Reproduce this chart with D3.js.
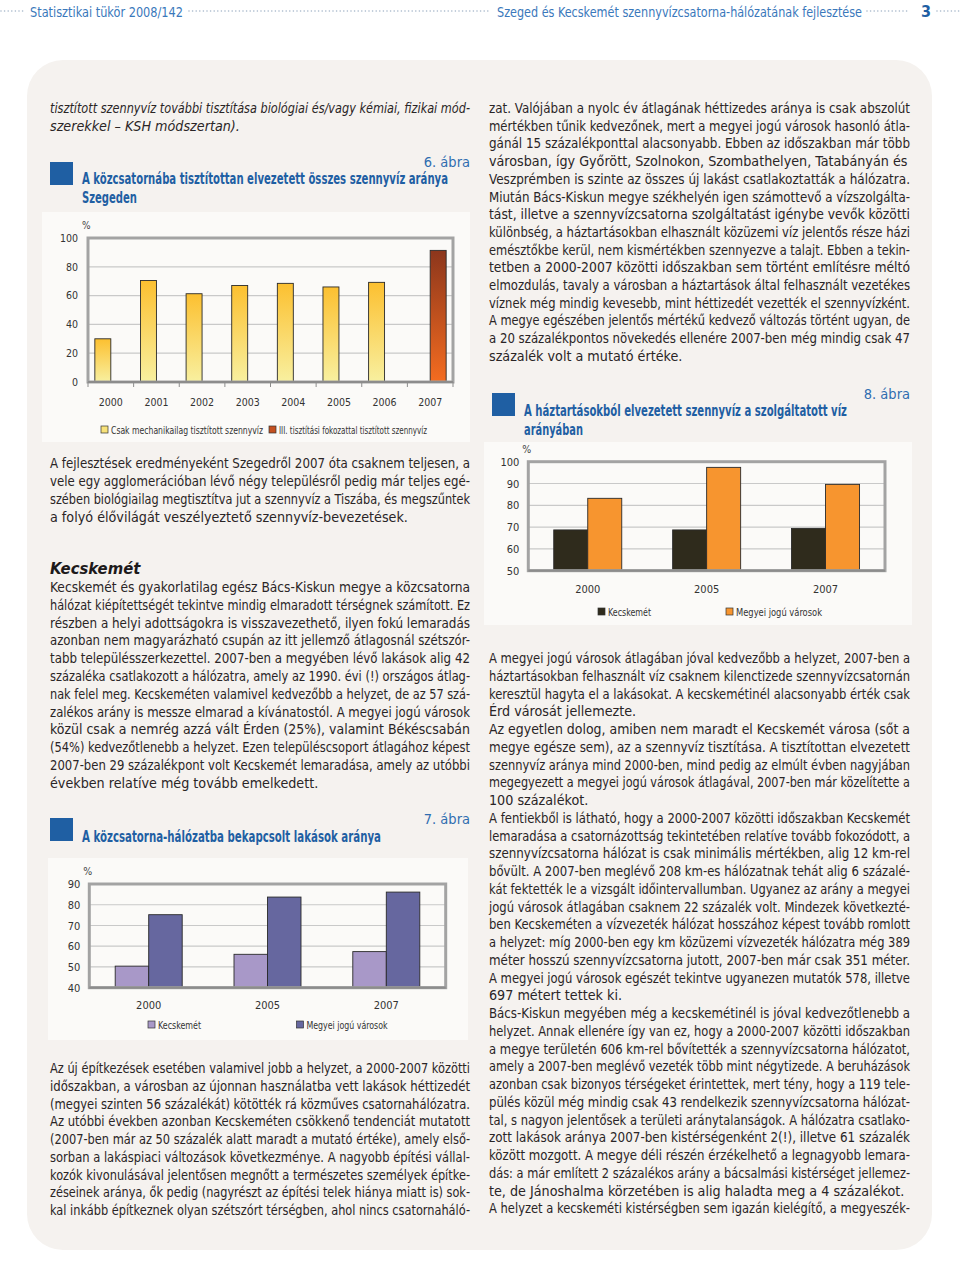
<!DOCTYPE html>
<html><head><meta charset="utf-8">
<script src="https://cdn.jsdelivr.net/npm/d3@7"></script>
<style>
html,body{margin:0;padding:0;background:#fff;}
svg{display:block;}
</style></head><body>
<svg id="page" width="960" height="1286"></svg>
<script>
// ---------------- DATA ----------------
const headerLeft = "Statisztikai tükör 2008/142";
const headerRight = "Szeged és Kecskemét szennyvízcsatorna-hálózatának fejlesztése";
const pageNumber = "3";

// Chart 6
const c6Number = "6. ábra";
const c6Title = ["A közcsatornába tisztítottan elvezetett összes szennyvíz aránya", "Szegeden"];
const c6Years = ["2000","2001","2002","2003","2004","2005","2006","2007"];
const c6Mechanical = [30, 70.5, 61.3, 67, 68.5, 66, 69.2, null];
const c6ThirdStage = [null, null, null, null, null, null, null, 91.4];
const c6Ticks = [0, 20, 40, 60, 80, 100];
const c6SeriesNames = ["Csak mechanikailag tisztított szennyvíz", "III. tisztítási fokozattal tisztított szennyvíz"];

// Chart 7
const c7Number = "7. ábra";
const c7Title = ["A közcsatorna-hálózatba bekapcsolt lakások aránya"];
const c7Years = ["2000","2005","2007"];
const c7Kecskemet = [50.4, 56.1, 57.4];
const c7Megyei = [75.2, 83.7, 86.1];
const c7Ticks = [40, 50, 60, 70, 80, 90];

// Chart 8
const c8Number = "8. ábra";
const c8Title = ["A háztartásokból elvezetett szennyvíz a szolgáltatott víz", "arányában"];
const c8Years = ["2000","2005","2007"];
const c8Kecskemet = [68.7, 68.7, 69.4];
const c8Megyei = [83.2, 97.4, 89.6];
const c8Ticks = [50, 60, 70, 80, 90, 100];

const seriesNames = ["Kecskemét", "Megyei jogú városok"];

// Text
const topItalic = [
 "tisztított szennyvíz további tisztítása biológiai és/vagy kémiai, fizikai mód-",
 "szerekkel – KSH módszertan)."
];
const paraSzeged = [
 "A fejlesztések eredményeként Szegedről 2007 óta csaknem teljesen, a",
 "vele egy agglomerációban lévő négy településről pedig már teljes egé-",
 "szében biológiailag megtisztítva jut a szennyvíz a Tiszába, és megszűntek",
 "a folyó élővilágát veszélyeztető szennyvíz-bevezetések."
];
const kecskemetHeading = "Kecskemét";
const paraKecskemet = [
 "Kecskemét és gyakorlatilag egész Bács-Kiskun megye a közcsatorna",
 "hálózat kiépítettségét tekintve mindig elmaradott térségnek számított. Ez",
 "részben a helyi adottságokra is visszavezethető, ilyen fokú lemaradás",
 "azonban nem magyarázható csupán az itt jellemző átlagosnál szétszór-",
 "tabb településszerkezettel. 2007-ben a megyében lévő lakások alig 42",
 "százaléka csatlakozott a hálózatra, amely az 1990. évi (!) országos átlag-",
 "nak felel meg. Kecskeméten valamivel kedvezőbb a helyzet, de az 57 szá-",
 "zalékos arány is messze elmarad a kívánatostól. A megyei jogú városok",
 "közül csak a nemrég azzá vált Érden (25%), valamint Békéscsabán",
 "(54%) kedvezőtlenebb a helyzet. Ezen településcsoport átlagához képest",
 "2007-ben 29 százalékpont volt Kecskemét lemaradása, amely az utóbbi",
 "években relatíve még tovább emelkedett."
];
const paraBuilding = [
 "Az új építkezések esetében valamivel jobb a helyzet, a 2000-2007 közötti",
 "időszakban, a városban az újonnan használatba vett lakások héttizedét",
 "(megyei szinten 56 százalékát) kötötték rá közműves csatornahálózatra.",
 "Az utóbbi években azonban Kecskeméten csökkenő tendenciát mutatott",
 "(2007-ben már az 50 százalék alatt maradt a mutató értéke), amely első-",
 "sorban a lakáspiaci változások következménye. A nagyobb építési vállal-",
 "kozók kivonulásával jelentősen megnőtt a természetes személyek építke-",
 "zéseinek aránya, ők pedig (nagyrészt az építési telek hiánya miatt is) sok-",
 "kal inkább építkeznek olyan szétszórt térségben, ahol nincs csatornaháló-"
];
const paraRightTop = [
 "zat. Valójában a nyolc év átlagának héttizedes aránya is csak abszolút",
 "mértékben tűnik kedvezőnek, mert a megyei jogú városok hasonló átla-",
 "gánál 15 százalékponttal alacsonyabb. Ebben az időszakban már több",
 "városban, így Győrött, Szolnokon, Szombathelyen, Tatabányán és",
 "Veszprémben is szinte az összes új lakást csatlakoztatták a hálózatra.",
 "Miután Bács-Kiskun megye székhelyén igen számottevő a vízszolgálta-",
 "tást, illetve a szennyvízcsatorna szolgáltatást igénybe vevők közötti",
 "különbség, a háztartásokban elhasznált közüzemi víz jelentős része házi",
 "emésztőkbe kerül, nem kismértékben szennyezve a talajt. Ebben a tekin-",
 "tetben a 2000-2007 közötti időszakban sem történt említésre méltó",
 "elmozdulás, tavaly a városban a háztartások által felhasznált vezetékes",
 "víznek még mindig kevesebb, mint héttizedét vezették el szennyvízként.",
 "A megye egészében jelentős mértékű kedvező változás történt ugyan, de",
 "a 20 százalékpontos növekedés ellenére 2007-ben még mindig csak 47",
 "százalék volt a mutató értéke."
];
const paraRightBottom = [
 "A megyei jogú városok átlagában jóval kedvezőbb a helyzet, 2007-ben a",
 "háztartásokban felhasznált víz csaknem kilenctizede szennyvízcsatornán",
 "keresztül hagyta el a lakásokat. A kecskemétinél alacsonyabb érték csak",
 "Érd városát jellemezte.",
 "Az egyetlen dolog, amiben nem maradt el Kecskemét városa (sőt a",
 "megye egésze sem), az a szennyvíz tisztítása. A tisztítottan elvezetett",
 "szennyvíz aránya mind 2000-ben, mind pedig az elmúlt évben nagyjában",
 "megegyezett a megyei jogú városok átlagával, 2007-ben már közelítette a",
 "100 százalékot.",
 "A fentiekből is látható, hogy a 2000-2007 közötti időszakban Kecskemét",
 "lemaradása a csatornázottság tekintetében relatíve tovább fokozódott, a",
 "szennyvízcsatorna hálózat is csak minimális mértékben, alig 12 km-rel",
 "bővült. A 2007-ben meglévő 208 km-es hálózatnak tehát alig 6 százalé-",
 "kát fektették le a vizsgált időintervallumban. Ugyanez az arány a megyei",
 "jogú városok átlagában csaknem 22 százalék volt. Mindezek következté-",
 "ben Kecskeméten a vízvezeték hálózat hosszához képest tovább romlott",
 "a helyzet: míg 2000-ben egy km közüzemi vízvezeték hálózatra még 389",
 "méter hosszú szennyvízcsatorna jutott, 2007-ben már csak 351 méter.",
 "A megyei jogú városok egészét tekintve ugyanezen mutatók 578, illetve",
 "697 métert tettek ki.",
 "Bács-Kiskun megyében még a kecskemétinél is jóval kedvezőtlenebb a",
 "helyzet. Annak ellenére így van ez, hogy a 2000-2007 közötti időszakban",
 "a megye területén 606 km-rel bővítették a szennyvízcsatorna hálózatot,",
 "amely a 2007-ben meglévő vezeték több mint négytizede. A beruházások",
 "azonban csak bizonyos térségeket érintettek, mert tény, hogy a 119 tele-",
 "pülés közül még mindig csak 43 rendelkezik szennyvízcsatorna hálózat-",
 "tal, s nagyon jelentősek a területi aránytalanságok. A hálózatra csatlako-",
 "zott lakások aránya 2007-ben kistérségenként 2(!), illetve 61 százalék",
 "között mozgott. A megye déli részén érzékelhető a legnagyobb lemara-",
 "dás: a már említett 2 százalékos arány a bácsalmási kistérséget jellemez-",
 "te, de Jánoshalma körzetében is alig haladta meg a 4 százalékot.",
 "A helyzet a kecskeméti kistérségben sem igazán kielégítő, a megyeszék-"
];

// ---------------- STYLE ----------------
const FONT = "'Liberation Sans Narrow','Arial Narrow','DejaVu Sans Condensed',sans-serif";
const BLUE = "#1f5fa3";
const TEXT = "#2a2526";

const svg = d3.select("#page").style("font-family", FONT);

// background panel
svg.append("rect").attr("x",27).attr("y",60).attr("width",905).attr("height",1190)
  .attr("rx",36).attr("fill","#f5f2ef");

// ---------------- HEADER ----------------
const hdr = svg.append("g").attr("fill","#3a78bb").style("font-size","14.5px");
function dots(x1,x2,y){
  hdr.append("line").attr("x1",x1).attr("x2",x2).attr("y1",y).attr("y2",y)
    .attr("stroke","#a5b6c9").attr("stroke-width",1.6).attr("stroke-linecap","round")
    .attr("stroke-dasharray","0,3.6");
}
dots(1,26,11); dots(189,490,11); dots(867,910,11); dots(937,960,11);
hdr.append("text").attr("x",30).attr("y",16.5).attr("textLength",153)
  .attr("lengthAdjust","spacingAndGlyphs").text(headerLeft);
hdr.append("text").attr("x",497).attr("y",16.5).attr("textLength",365)
  .attr("lengthAdjust","spacingAndGlyphs").text(headerRight);
hdr.append("text").attr("x",926).attr("y",17).attr("text-anchor","middle")
  .style("font-weight","bold").style("font-size","16px").attr("fill","#1f5fa3").text(pageNumber);

// ---------------- TEXT BLOCKS ----------------
function drawLines(lines, x, y0, lh, maxW, opts={}){
  const g = svg.append("g").attr("fill",TEXT).style("font-size",(opts.size||14.2)+"px");
  if (opts.italic) g.style("font-style","italic");
  lines.forEach((t,i)=>{
    const el = g.append("text").attr("x",x).attr("y",y0+i*lh).text(t);
    const w = el.node().getComputedTextLength();
    if (w > maxW) el.attr("textLength",maxW).attr("lengthAdjust","spacingAndGlyphs");
  });
  return g;
}
drawLines(topItalic, 50, 113, 18, 420, {italic:true});
drawLines(paraSzeged, 50, 468, 17.9, 420);
svg.append("text").attr("x",50).attr("y",574).attr("fill","#1d1a1b")
  .style("font-size","16.5px").style("font-weight","bold").style("font-style","italic")
  .text(kecskemetHeading);
drawLines(paraKecskemet, 50, 592, 17.8, 420);
drawLines(paraBuilding, 50, 1073, 17.75, 420);
drawLines(paraRightTop, 489, 113, 17.7, 421);
drawLines(paraRightBottom, 489, 663, 17.75, 421);

// ---------------- CHART HEADINGS ----------------
function heading(sqX, sqY, numX, numY, number, titleX, titleY, titleLines, widths){
  svg.append("rect").attr("x",sqX).attr("y",sqY).attr("width",23).attr("height",23).attr("fill",BLUE);
  svg.append("text").attr("x",numX).attr("y",numY).attr("text-anchor","end")
    .attr("fill","#2f6db0").style("font-size","14.5px").text(number);
  titleLines.forEach((t,i)=>{
    svg.append("text").attr("x",titleX).attr("y",titleY+i*18.5)
      .attr("fill",BLUE).style("font-size","15.5px").style("font-weight","bold")
      .attr("textLength",widths[i]).attr("lengthAdjust","spacingAndGlyphs").text(t);
  });
}
heading(50,162,470,167,c6Number,82,184,c6Title,[366,55]);
heading(50,818,470,824,c7Number,82,842,c7Title,[299]);
heading(492,393,910,399,c8Number,524,416,c8Title,[323,59]);

// ---------------- BAR CHARTS ----------------
const defs = svg.append("defs");
function grad(id, top, bottom){
  const lg = defs.append("linearGradient").attr("id",id).attr("x1",0).attr("x2",0).attr("y1",0).attr("y2",1);
  lg.append("stop").attr("offset","0%").attr("stop-color",top);
  lg.append("stop").attr("offset","100%").attr("stop-color",bottom);
}
grad("gYellow","#fcc030","#f8f0a0");
grad("gRust","#8c361c","#f46c20");

function barChart(o){
  const g = svg.append("g");
  g.append("rect").attr("x",o.box[0]).attr("y",o.box[1]).attr("width",o.box[2]).attr("height",o.box[3])
    .attr("fill","#fbfaf8");
  const x0 = d3.scaleBand().domain(o.categories).range([o.left,o.right])
    .paddingInner(o.pad).paddingOuter(o.pad/2);
  const x1 = d3.scaleBand().domain(d3.range(o.series.length)).range([0,x0.bandwidth()]);
  const y = d3.scaleLinear().domain(o.domain).range([o.bottom,o.top]);

  // grid
  g.selectAll(".grid").data(o.ticks.slice(1,-1)).join("line")
    .attr("x1",o.left).attr("x2",o.right).attr("y1",d=>y(d)).attr("y2",d=>y(d))
    .attr("stroke","#c9c9c9").attr("stroke-width",1.2);

  // bars
  o.series.forEach((vals,si)=>{
    g.selectAll(null).data(o.categories.map((c,i)=>({c,v:vals[i]})).filter(d=>d.v!=null))
      .join("rect")
      .attr("x",d=>x0(d.c)+x1(si)).attr("width",x1.bandwidth())
      .attr("y",d=>y(d.v)).attr("height",d=>y(o.domain[0])-y(d.v))
      .attr("fill",o.fills[si]).attr("stroke","#2a2a2a").attr("stroke-width",0.9);
  });

  // frame
  g.append("rect").attr("x",o.left).attr("y",o.top).attr("width",o.right-o.left).attr("height",o.bottom-o.top)
    .attr("fill","none").attr("stroke","#a3a3a3").attr("stroke-width",3);
  g.append("line").attr("x1",o.left).attr("x2",o.right).attr("y1",o.bottom).attr("y2",o.bottom)
    .attr("stroke","#8c8c8c").attr("stroke-width",2.2);

  // x tick marks at band boundaries
  if (o.xTicks){
    const bounds = o.categories.map(c=>x0(c)-x0.step()*o.pad/2).concat([o.right]);
    g.selectAll(null).data(bounds).join("line")
      .attr("x1",d=>d).attr("x2",d=>d).attr("y1",o.bottom).attr("y2",o.bottom+5)
      .attr("stroke","#8c8c8c").attr("stroke-width",1);
  }

  // axes
  const ya = g.append("g").attr("transform",`translate(${o.left},0)`)
    .call(d3.axisLeft(y).tickValues(o.ticks).tickSize(0).tickPadding(o.yPad||10));
  ya.select(".domain").remove();
  ya.selectAll("text").attr("fill","#333").style("font-family",FONT).style("font-size",o.fs+"px");
  const xa = g.append("g").attr("transform",`translate(0,${o.bottom})`)
    .call(d3.axisBottom(x0).tickSize(0).tickPadding(o.xPad||16));
  xa.select(".domain").remove();
  xa.selectAll("text").attr("fill","#333").style("font-family",FONT).style("font-size",o.fs+"px");

  g.append("text").attr("x",o.left-6).attr("y",o.top-9).attr("fill","#444")
    .style("font-size",(o.fs-0.5)+"px").text("%");

  // legend
  o.legend.forEach((L,i)=>{
    g.append("rect").attr("x",L[0]).attr("y",o.legendY-4).attr("width",7).attr("height",7)
      .attr("fill",o.legendFills[i]).attr("stroke","#333").attr("stroke-width",0.7);
    g.append("text").attr("x",L[0]+10).attr("y",o.legendY+3.5).attr("fill","#333")
      .style("font-size",o.lfs+"px").attr("textLength",L[1])
      .attr("lengthAdjust","spacingAndGlyphs").text(o.names[i]);
  });
}

barChart({
  box:[42,212,428,230],
  categories:c6Years, series:[c6Mechanical,c6ThirdStage],
  fills:["url(#gYellow)","url(#gRust)"], legendFills:["#f8e27a","#c4501f"],
  left:88, right:453, top:238, bottom:382, pad:0.3,
  domain:[0,100], ticks:c6Ticks, xTicks:true, fs:10.5, lfs:10,
  names:c6SeriesNames, legend:[[101,152],[269,148]], legendY:430, yPad:10, xPad:17
});

barChart({
  box:[48,858,420,182],
  categories:c7Years, series:[c7Kecskemet,c7Megyei],
  fills:["#a898c8","#66679f"], legendFills:["#a898c8","#66679f"],
  left:89.3, right:445.7, top:884, bottom:987.7, pad:0.436,
  domain:[40,90], ticks:c7Ticks, xTicks:false, fs:11, lfs:11,
  names:seriesNames, legend:[[148,43],[296.5,81]], legendY:1025, yPad:9, xPad:14
});

barChart({
  box:[484,442,428,183],
  categories:c8Years, series:[c8Kecskemet,c8Megyei],
  fills:["#2f2b1c","#f7952f"], legendFills:["#2f2b1c","#f7952f"],
  left:528.3, right:885, top:461.7, bottom:570.7, pad:0.428,
  domain:[50,100], ticks:c8Ticks, xTicks:false, fs:11, lfs:11,
  names:seriesNames, legend:[[598,43],[726,86]], legendY:612, yPad:9, xPad:15
});
</script>
</body></html>
